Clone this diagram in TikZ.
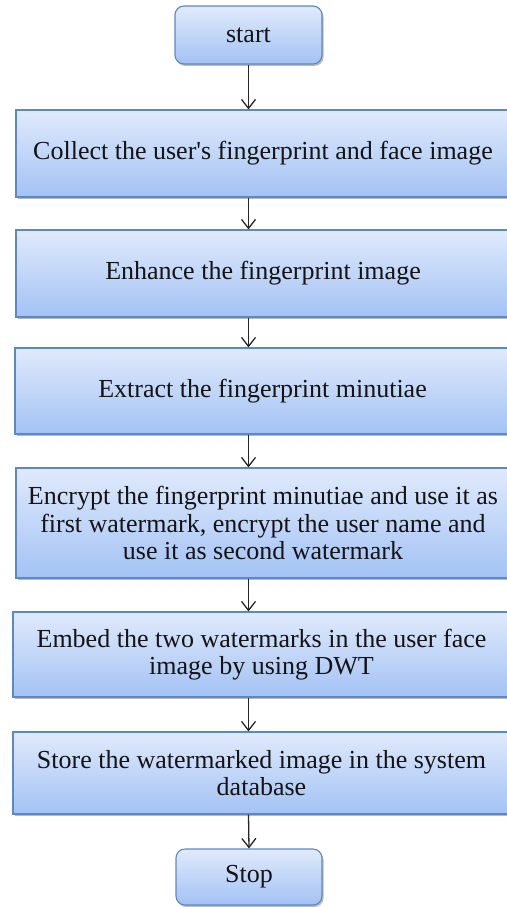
\documentclass[tikz,border=0pt]{standalone}
\usepackage{fontspec}
\setmainfont{Liberation Serif}
\usetikzlibrary{arrows.meta,shadows,calc}
\definecolor{boxtop}{HTML}{E0EAFC}
\definecolor{boxbot}{HTML}{A3C2F4}
\definecolor{boxline}{HTML}{5E88C4}
\definecolor{txt}{HTML}{141414}
\tikzset{
  flowbox/.style={rectangle, draw=boxline, line width=1.1pt, top color=boxtop, bottom color=boxbot,
    drop shadow={shadow xshift=1.5pt, shadow yshift=-2pt, fill=black!45, opacity=0.6},
    text=txt, align=center, inner sep=0pt,
    font=\fontsize{26}{27.5}\selectfont},
  termbox/.style={flowbox, rounded corners=9pt},
  arr/.style={draw=black!85, line width=1.3pt, -{Straight Barb[length=9pt,width=14pt,line width=1.3pt]}}
}
\begin{document}
\begin{tikzpicture}[x=1pt,y=1pt]
\useasboundingbox (0,0) rectangle (506,-907);
\node[termbox, minimum width=147pt, minimum height=58pt] (start) at (248.5,-35) {start};
\node[flowbox, minimum width=494pt, minimum height=87pt] (b1) at (263,-153.5) {Collect the user\textquotesingle s fingerprint and face image};
\node[flowbox, minimum width=494pt, minimum height=87pt] (b2) at (263,-273.5) {Enhance the fingerprint image};
\node[flowbox, minimum width=495pt, minimum height=86pt] (b3) at (262.5,-391) {Extract the fingerprint minutiae};
\node[flowbox, minimum width=494pt, minimum height=110pt] (b4) at (263,-523) {Encrypt the fingerprint minutiae and use it as\\first watermark, encrypt the user name and\\use it as second watermark};
\node[flowbox, minimum width=497pt, minimum height=85pt] (b5) at (261.5,-654.5) {Embed the two watermarks in the user face\\image by using DWT};
\node[flowbox, minimum width=497pt, minimum height=82pt] (b6) at (261.5,-773) {Store the watermarked image in the system\\database};
\node[termbox, minimum width=146pt, minimum height=56pt] (stop) at (249,-877) {Stop};
\draw[arr] (start.south) -- (start.south |- b1.north);
\draw[arr] (start.south |- b1.south) -- (start.south |- b2.north);
\draw[arr] (start.south |- b2.south) -- (start.south |- b3.north);
\draw[arr] (start.south |- b3.south) -- (start.south |- b4.north);
\draw[arr] (start.south |- b4.south) -- (start.south |- b5.north);
\draw[arr] (start.south |- b5.south) -- (start.south |- b6.north);
\draw[arr] (start.south |- b6.south) -- (stop.north);
\end{tikzpicture}
\end{document}
